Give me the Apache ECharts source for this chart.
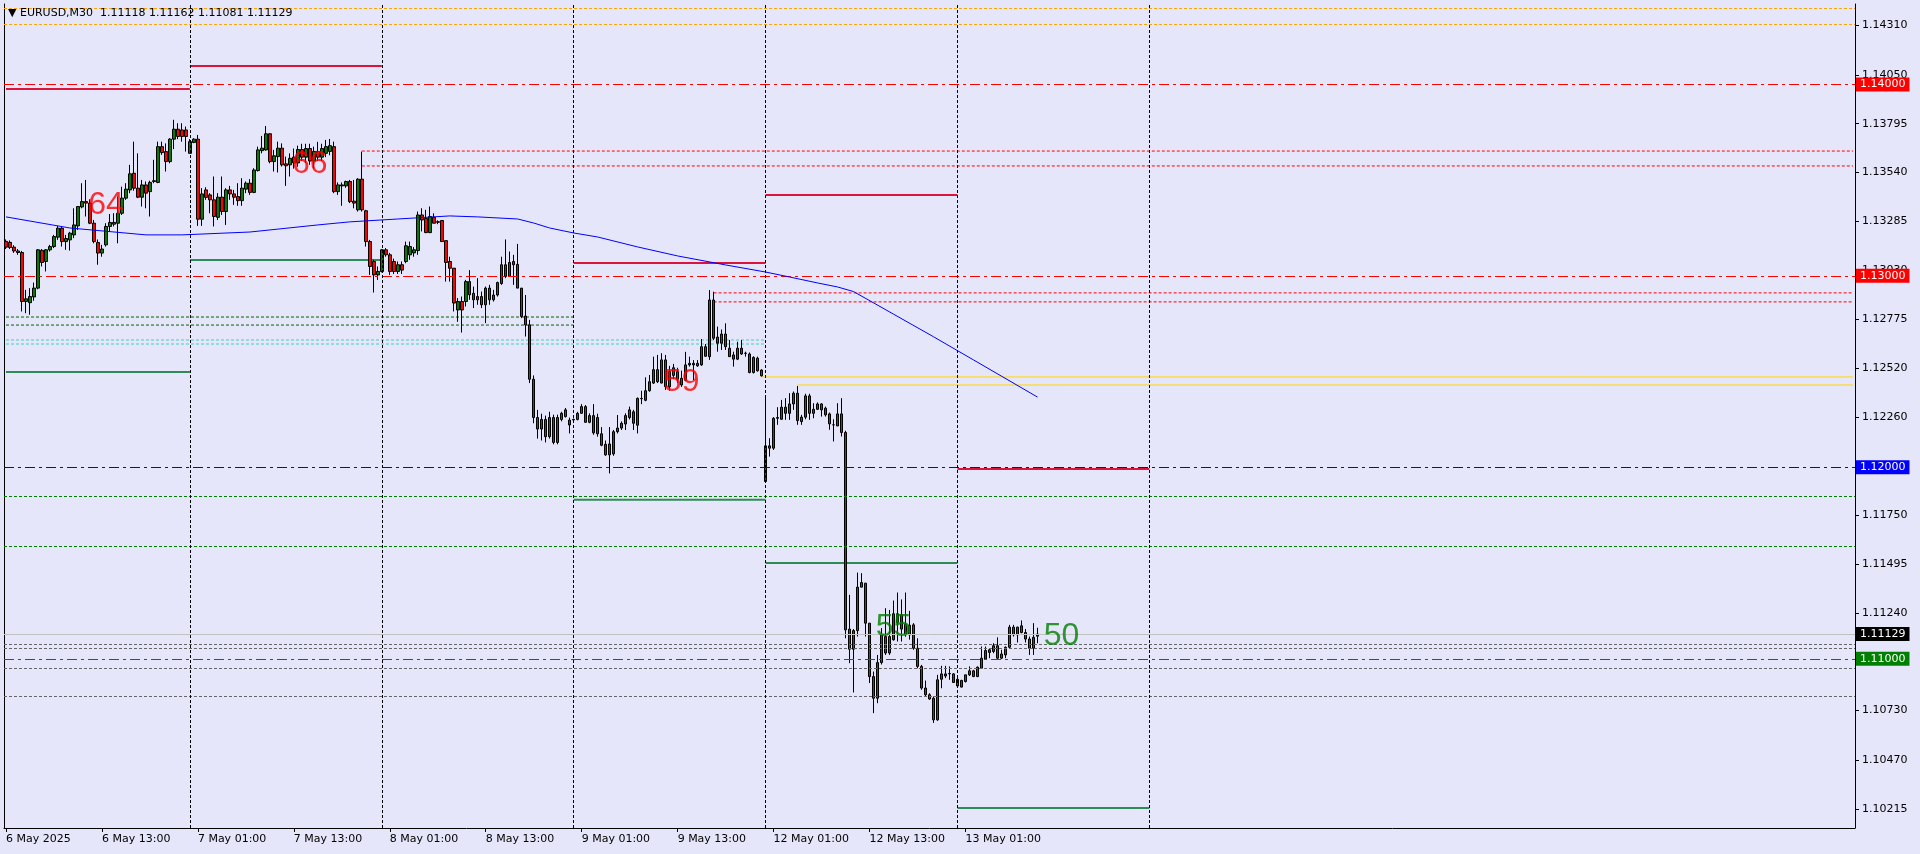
<!DOCTYPE html>
<html><head><meta charset="utf-8">
<script src="https://cdn.jsdelivr.net/npm/echarts@6/dist/echarts.min.js"></script>
<style>html,body{margin:0;padding:0;background:#E6E6FA;}#c{width:1920px;height:854px;}</style>
</head><body><div id="c"></div>
<script>
// ---------- DATA ----------
const symbolName = 'EURUSD,M30';
const tradingDays = ['2025-05-06','2025-05-07','2025-05-08','2025-05-09','2025-05-12','2025-05-13','2025-05-14','2025-05-15','2025-05-16','2025-05-19'];
const firstBarTime = '01:00';
const totalSlots = 463;
const monthNames = ['Jan','Feb','Mar','Apr','May','Jun','Jul','Aug','Sep','Oct','Nov','Dec'];

const open = [1.13180,1.13175,1.13150,1.13130,1.13122,1.12866,1.12860,1.12890,1.12936,1.13133,
1.13075,1.13136,1.13153,1.13202,1.13249,1.13179,1.13188,1.13214,1.13261,1.13360,
1.13388,1.13380,1.13275,1.13174,1.13119,1.13162,1.13258,1.13279,1.13275,1.13327,
1.13406,1.13449,1.13536,1.13458,1.13411,1.13475,1.13440,1.13493,1.13488,1.13675,
1.13649,1.13597,1.13714,1.13766,1.13762,1.13762,1.13640,1.13697,1.13714,1.13296,
1.13449,1.13423,1.13397,1.13306,1.13411,1.13336,1.13449,1.13428,1.13414,1.13393,
1.13453,1.13484,1.13436,1.13550,1.13654,1.13658,1.13742,1.13597,1.13623,1.13667,
1.13585,1.13580,1.13620,1.13590,1.13660,1.13620,1.13665,1.13600,1.13650,1.13620,
1.13640,1.13650,1.13675,1.13440,1.13475,1.13470,1.13493,1.13390,1.13345,1.13505,
1.13340,1.13179,1.13075,1.13005,1.13023,1.13136,1.13110,1.13075,1.13023,1.13058,
1.13075,1.13110,1.13120,1.13132,1.13318,1.13300,1.13226,1.13306,1.13283,1.13289,
1.13184,1.13075,1.13040,1.12822,1.12866,1.12866,1.12970,1.12909,1.12892,1.12892,
1.12849,1.12936,1.12875,1.12900,1.12960,1.13058,1.12997,1.13075,1.13060,1.12936,
1.12790,1.12744,1.12460,1.12260,1.12200,1.12250,1.12160,1.12260,1.12130,1.12250,
1.12265,1.12221,1.12247,1.12250,1.12282,1.12317,1.12235,1.12270,1.12260,1.12175,
1.12120,1.12065,1.12070,1.12186,1.12205,1.12226,1.12260,1.12290,1.12220,1.12360,
1.12350,1.12400,1.12440,1.12510,1.12440,1.12561,1.12420,1.12480,1.12500,1.12430,
1.12455,1.12535,1.12543,1.12543,1.12535,1.12630,1.12578,1.12874,1.12680,1.12648,
1.12696,1.12622,1.12587,1.12565,1.12622,1.12596,1.12592,1.12495,1.12570,1.12508,
1.11926,1.12112,1.12100,1.12256,1.12251,1.12314,1.12282,1.12331,1.12387,1.12239,
1.12262,1.12373,1.12282,1.12303,1.12331,1.12309,1.12279,1.12222,1.12216,1.12279,
1.12182,1.11155,1.11050,1.11147,1.11374,1.11395,1.11186,1.10907,1.10794,1.10980,
1.11116,1.11116,1.11099,1.11190,1.11230,1.11180,1.11125,1.11177,1.11055,1.10960,
1.10847,1.10812,1.10794,1.10681,1.10893,1.10910,1.10921,1.10921,1.10893,1.10852,
1.10881,1.10916,1.10937,1.10907,1.10951,1.10998,1.11033,1.11038,1.11068,1.11003,
1.11020,1.11060,1.11165,1.11125,1.11172,1.11137,1.11103,1.11055,1.11118];

const high = [1.13190,1.13185,1.13160,1.13140,1.13130,1.12927,1.12936,1.12965,1.13140,1.13140,
1.13140,1.13162,1.13214,1.13261,1.13258,1.13214,1.13230,1.13353,1.13362,1.13484,
1.13501,1.13400,1.13292,1.13190,1.13162,1.13275,1.13323,1.13327,1.13414,1.13466,
1.13484,1.13580,1.13701,1.13640,1.13501,1.13493,1.13497,1.13606,1.13701,1.13701,
1.13692,1.13719,1.13815,1.13797,1.13797,1.13780,1.13714,1.13719,1.13736,1.13458,
1.13463,1.13432,1.13519,1.13432,1.13519,1.13458,1.13470,1.13449,1.13484,1.13510,
1.13493,1.13505,1.13562,1.13675,1.13731,1.13783,1.13745,1.13658,1.13701,1.13692,
1.13623,1.13640,1.13665,1.13680,1.13690,1.13690,1.13690,1.13675,1.13700,1.13690,
1.13710,1.13715,1.13701,1.13488,1.13488,1.13497,1.13501,1.13501,1.13510,1.13649,
1.13345,1.13188,1.13084,1.13049,1.13140,1.13145,1.13120,1.13090,1.13075,1.13075,
1.13179,1.13179,1.13150,1.13336,1.13353,1.13345,1.13362,1.13327,1.13290,1.13289,
1.13184,1.13100,1.13040,1.12884,1.12892,1.12979,1.13030,1.12944,1.12988,1.12918,
1.12944,1.12953,1.12927,1.12970,1.13100,1.13190,1.13127,1.13110,1.13167,1.12936,
1.12900,1.12770,1.12480,1.12300,1.12280,1.12270,1.12290,1.12275,1.12275,1.12290,
1.12310,1.12260,1.12255,1.12290,1.12330,1.12325,1.12282,1.12330,1.12280,1.12210,
1.12140,1.12210,1.12195,1.12273,1.12240,1.12282,1.12317,1.12300,1.12365,1.12400,
1.12470,1.12482,1.12578,1.12587,1.12596,1.12587,1.12530,1.12540,1.12520,1.12505,
1.12603,1.12578,1.12560,1.12560,1.12670,1.12644,1.12926,1.12917,1.12735,1.12720,
1.12752,1.12665,1.12604,1.12656,1.12665,1.12604,1.12600,1.12580,1.12578,1.12512,
1.12362,1.12152,1.12262,1.12314,1.12352,1.12361,1.12387,1.12396,1.12425,1.12274,
1.12384,1.12384,1.12335,1.12339,1.12335,1.12317,1.12286,1.12251,1.12335,1.12361,
1.12191,1.11334,1.11155,1.11450,1.11447,1.11395,1.11186,1.10933,1.11020,1.11160,
1.11264,1.11255,1.11304,1.11346,1.11310,1.11346,1.11250,1.11186,1.11107,1.10968,
1.10886,1.10820,1.10803,1.10916,1.10963,1.10963,1.10960,1.10925,1.10911,1.10890,
1.10916,1.10960,1.10942,1.10960,1.11064,1.11064,1.11055,1.11081,1.11112,1.11047,
1.11064,1.11177,1.11177,1.11168,1.11200,1.11155,1.11116,1.11186,1.11162];

const low = [1.13140,1.13140,1.13120,1.13110,1.12814,1.12805,1.12797,1.12870,1.12930,1.13049,
1.13023,1.13127,1.13145,1.13188,1.13153,1.13136,1.13132,1.13197,1.13240,1.13353,
1.13310,1.13270,1.13170,1.13058,1.13100,1.13153,1.13231,1.13258,1.13170,1.13318,
1.13397,1.13432,1.13445,1.13406,1.13362,1.13353,1.13310,1.13484,1.13484,1.13632,
1.13545,1.13588,1.13662,1.13714,1.13701,1.13649,1.13640,1.13693,1.13261,1.13261,
1.13397,1.13327,1.13258,1.13292,1.13318,1.13266,1.13397,1.13371,1.13366,1.13366,
1.13432,1.13423,1.13432,1.13545,1.13640,1.13654,1.13588,1.13545,1.13540,1.13571,
1.13470,1.13519,1.13560,1.13570,1.13600,1.13590,1.13580,1.13560,1.13600,1.13600,
1.13620,1.13630,1.13432,1.13423,1.13366,1.13460,1.13380,1.13353,1.13336,1.13336,
1.13153,1.13005,1.12913,1.12979,1.13018,1.13100,1.13005,1.13010,1.13010,1.13010,
1.13066,1.13084,1.13100,1.13110,1.13232,1.13223,1.13223,1.13275,1.13270,1.13179,
1.12970,1.12970,1.12814,1.12760,1.12704,1.12840,1.12875,1.12832,1.12849,1.12832,
1.12753,1.12849,1.12866,1.12892,1.12953,1.12988,1.12997,1.12953,1.12936,1.12779,
1.12683,1.12440,1.12230,1.12150,1.12140,1.12130,1.12150,1.12120,1.12120,1.12240,
1.12260,1.12177,1.12240,1.12245,1.12280,1.12233,1.12230,1.12170,1.12160,1.12110,
1.12060,1.11968,1.12060,1.12177,1.12195,1.12195,1.12250,1.12195,1.12177,1.12330,
1.12345,1.12395,1.12435,1.12440,1.12439,1.12404,1.12400,1.12460,1.12440,1.12420,
1.12450,1.12526,1.12456,1.12525,1.12530,1.12578,1.12561,1.12665,1.12604,1.12613,
1.12613,1.12578,1.12526,1.12560,1.12587,1.12578,1.12491,1.12490,1.12500,1.12474,
1.11926,1.12056,1.12091,1.12222,1.12248,1.12248,1.12248,1.12300,1.12222,1.12222,
1.12251,1.12248,1.12256,1.12300,1.12265,1.12265,1.12196,1.12135,1.12216,1.12161,
1.11107,1.10977,1.10824,1.11116,1.11374,1.11116,1.10873,1.10716,1.10768,1.10970,
1.11020,1.11020,1.11095,1.11090,1.11090,1.11115,1.11100,1.11047,1.10950,1.10838,
1.10803,1.10786,1.10665,1.10676,1.10846,1.10899,1.10890,1.10873,1.10855,1.10850,
1.10876,1.10910,1.10904,1.10904,1.10951,1.10994,1.11003,1.11029,1.10994,1.10998,
1.11003,1.11055,1.11116,1.11085,1.11133,1.11085,1.11020,1.11020,1.11081];

const close = [1.13150,1.13148,1.13130,1.13122,1.12866,1.12880,1.12892,1.12936,1.13136,1.13070,
1.13136,1.13153,1.13205,1.13249,1.13179,1.13195,1.13223,1.13266,1.13362,1.13388,
1.13380,1.13275,1.13179,1.13119,1.13140,1.13258,1.13279,1.13270,1.13327,1.13406,
1.13453,1.13533,1.13458,1.13411,1.13475,1.13432,1.13488,1.13497,1.13675,1.13644,
1.13597,1.13714,1.13766,1.13728,1.13728,1.13728,1.13701,1.13714,1.13296,1.13428,
1.13410,1.13397,1.13310,1.13411,1.13336,1.13449,1.13428,1.13411,1.13393,1.13458,
1.13484,1.13436,1.13553,1.13658,1.13667,1.13742,1.13597,1.13627,1.13667,1.13580,
1.13575,1.13614,1.13590,1.13660,1.13620,1.13665,1.13600,1.13650,1.13620,1.13665,
1.13675,1.13680,1.13440,1.13475,1.13470,1.13493,1.13388,1.13380,1.13505,1.13345,
1.13179,1.13049,1.13005,1.13023,1.13136,1.13110,1.13023,1.13023,1.13058,1.13030,
1.13157,1.13153,1.13136,1.13318,1.13292,1.13226,1.13310,1.13275,1.13280,1.13179,
1.13070,1.13040,1.12858,1.12866,1.12822,1.12970,1.12901,1.12875,1.12875,1.12849,
1.12936,1.12875,1.12900,1.12965,1.13058,1.12997,1.13070,1.13058,1.12936,1.12788,
1.12744,1.12460,1.12260,1.12200,1.12250,1.12160,1.12260,1.12130,1.12260,1.12282,
1.12300,1.12247,1.12250,1.12282,1.12317,1.12235,1.12270,1.12180,1.12175,1.12115,
1.12065,1.12122,1.12186,1.12205,1.12230,1.12270,1.12300,1.12230,1.12360,1.12358,
1.12400,1.12447,1.12510,1.12447,1.12561,1.12421,1.12500,1.12520,1.12460,1.12465,
1.12535,1.12543,1.12535,1.12530,1.12630,1.12580,1.12874,1.12674,1.12648,1.12696,
1.12630,1.12578,1.12565,1.12622,1.12592,1.12595,1.12495,1.12574,1.12504,1.12478,
1.12112,1.12100,1.12256,1.12260,1.12314,1.12282,1.12331,1.12387,1.12244,1.12262,
1.12373,1.12282,1.12303,1.12331,1.12300,1.12274,1.12227,1.12222,1.12279,1.12182,
1.11151,1.11050,1.11147,1.11374,1.11398,1.11186,1.10907,1.10794,1.10980,1.11125,
1.11030,1.11030,1.11235,1.11235,1.11155,1.11125,1.11175,1.11055,1.10960,1.10847,
1.10812,1.10790,1.10681,1.10890,1.10921,1.10921,1.10923,1.10876,1.10858,1.10887,
1.10916,1.10937,1.10907,1.10956,1.11003,1.11043,1.11047,1.11068,1.11003,1.11025,
1.11060,1.11165,1.11125,1.11165,1.11137,1.11103,1.11055,1.11112,1.11129];

// moving average readings: [bar index, value]
const maPoints = [[0,1.13308],[16,1.13250],[35,1.13214],[44,1.13214],[61,1.13229],[78,1.13266],[86,1.13282],
[98,1.13297],[111,1.13313],[118,1.13308],[128,1.13297],[132,1.13276],[136,1.13250],[142,1.13224],[148,1.13203],
[158,1.13151],[168,1.13104],[180,1.13057],[190,1.13020],[196,1.12994],[203,1.12963],[208,1.12942],[212,1.12918],
[222,1.12800],[232,1.12682],[242,1.12561],[258,1.12367]];

const yTicks = [1.14310,1.14050,1.13795,1.13540,1.13285,1.13030,1.12775,1.12520,1.12260,1.12005,1.11750,1.11495,1.11240,1.10985,1.10730,1.10470,1.10215];
const yMin = 1.10116, yMax = 1.14420;

const roundLevels = [1.14000, 1.13000, 1.12000, 1.11000];
const separatorDays = ['2025-05-07','2025-05-08','2025-05-09','2025-05-12','2025-05-13','2025-05-14'];
const dayHighLevels = {'2025-05-06':1.13976,'2025-05-07':1.14096,'2025-05-09':1.13067,'2025-05-12':1.13423,'2025-05-13':1.11991};
const dayLowLevels  = {'2025-05-06':1.12498,'2025-05-07':1.13083,'2025-05-09':1.11830,'2025-05-12':1.11500,'2025-05-13':1.10221};
const redRays = [['2025-05-07 21:30',1.13652],['2025-05-07 21:30',1.13574],['2025-05-09 17:30',1.12911],['2025-05-09 17:30',1.12864]];
const yellowRays = [['2025-05-09 23:30',1.12472],['2025-05-12 04:00',1.12430]];
const darkGreenLevels = [1.12785, 1.12743]; const darkGreenEnd = '2025-05-09 00:00';
const aquaLevels = [1.12665, 1.12644]; const aquaEnd = '2025-05-12 00:00';
const orangeLevels = [1.14399, 1.14316];
const greenDotLevels = [1.11850, 1.11589];
const grayDotLevels = [1.11077, 1.11056, 1.10952, 1.10806];
const redMarks = [['2025-05-06 13:30',1.13370,'64'],['2025-05-07 15:00',1.13585,'66'],['2025-05-09 13:30',1.12446,'59']];
const greenMarks = [['2025-05-12 16:00',1.11166,'55'],['2025-05-13 13:00',1.11119,'50']];

// ---------- BUILD ----------
const cats = [];
outer: for (const d of tradingDays) {
  for (let m = 0; m < 48; m++) {
    const t = d + ' ' + String(Math.floor(m/2)).padStart(2,'0') + ':' + (m%2 ? '30' : '00');
    if (cats.length === 0 && t < tradingDays[0] + ' ' + firstBarTime) continue;
    cats.push(t);
    if (cats.length >= totalSlots) break outer;
  }
}
const idx = t => cats.indexOf(t);
const nBars = close.length;
const lastIdx = cats.length - 1;
const isLabeled = i => i === 0 || (i < nBars && (cats[i].endsWith(' 01:00') || cats[i].endsWith(' 13:00')));
const fmtCat = (v, i) => {
  const [d, t] = v.split(' ');
  const [y, mo, dd] = d.split('-');
  const base = parseInt(dd,10) + ' ' + monthNames[parseInt(mo,10)-1];
  return i === 0 ? base + ' ' + y : base + ' ' + t;
};
const nextDayStart = d => {
  const k = tradingDays.indexOf(d);
  return idx(tradingDays[k+1] + ' 00:00');
};
const dayStart = d => d === tradingDays[0] ? 0 : idx(d + ' 00:00');

const FONT = 'DejaVu Sans';
const DASHDOT = [10,4,3,4];
const DOT = [3,2];

const series = [];
function seg(x0, x1, p, color, type, width, z) {
  series.push({type:'line', data:[[x0,p],[x1,p]], symbol:'none', silent:true, animation:false,
    lineStyle:{color, type, width}, z: z || 2});
}
Object.keys(dayHighLevels).forEach(d => seg(dayStart(d), nextDayStart(d), dayHighLevels[d], '#DC143C', 'solid', 2, 3));
Object.keys(dayLowLevels).forEach(d => seg(dayStart(d), nextDayStart(d), dayLowLevels[d], '#2E8B57', 'solid', 2, 3));
redRays.forEach(r => seg(idx(r[0]), lastIdx, r[1], '#FF0000', DOT, 1));
yellowRays.forEach(r => seg(idx(r[0]), lastIdx, r[1], '#FFD700', 'solid', 1));
darkGreenLevels.forEach(p => seg(0, idx(darkGreenEnd), p, '#006400', DOT, 1));
aquaLevels.forEach(p => seg(0, idx(aquaEnd), p, '#40D0C0', DOT, 1));

const tagColors = ['#FF0000','#FF0000','#0000FF','#008000'];
const lineColors = ['#FF0000','#FF0000','#0000FF','#008000'];
const tag = bg => ({show:true, position:'end', distance:1, formatter: p => Number(p.value).toFixed(5),
  backgroundColor:bg, color:'#FFFFFF', padding:[2,4,1,4], fontSize:11, fontFamily:FONT});
const mlData = [];
orangeLevels.forEach(p => mlData.push({yAxis:p, lineStyle:{color:'#FFA500', type:DOT, width:1}, label:{show:false}}));
greenDotLevels.forEach(p => mlData.push({yAxis:p, lineStyle:{color:'#008000', type:DOT, width:1}, label:{show:false}}));
grayDotLevels.forEach(p => mlData.push({yAxis:p, lineStyle:{color:'#666666', type:DOT, width:1}, label:{show:false}}));
mlData.push({yAxis:close[nBars-1], lineStyle:{color:'#C0C0C0', type:'solid', width:1}, label:tag('#000000')});
roundLevels.forEach((p,k) => mlData.push({yAxis:p, lineStyle:{color:lineColors[k], type:DASHDOT, width:1}, label:tag(tagColors[k])}));
separatorDays.forEach(d => mlData.push({xAxis:idx(d+' 00:00'), lineStyle:{color:'#000000', type:DOT, width:1}, label:{show:false}}));

series.unshift({type:'line', data:[], z:1, silent:true, animation:false,
  markLine:{symbol:['none','none'], precision:5, silent:true, animation:false, data: mlData}});

series.push({type:'candlestick', z:4, animation:false, barWidth:3,
  data: open.map((o,i) => [o, close[i], low[i], high[i]]),
  itemStyle:{color:'#008000', color0:'#FF0000', borderColor:'#000000', borderColor0:'#000000', borderWidth:1}});
series.push({type:'line', z:5, data: maPoints, symbol:'none', silent:true, animation:false,
  lineStyle:{color:'#0000FF', width:1}});
const markSeries = (arr, color) => ({type:'scatter', z:6, silent:true, animation:false, symbolSize:1,
  itemStyle:{color:'rgba(0,0,0,0)'},
  data: arr.map(m => [idx(m[0]), m[1], m[2]]),
  label:{show:true, position:'inside', formatter: p => p.data[2], color, fontSize:32, fontFamily:'Liberation Sans'}});
series.push(markSeries(redMarks, '#FF0000'));
series.push(markSeries(greenMarks, '#008000'));

const last = nBars - 1;
const chart = echarts.init(document.getElementById('c'), null, {renderer:'canvas'});
chart.setOption({
  backgroundColor:'#E6E6FA',
  animation:false,
  title:{text:'\u25BC ' + symbolName + '  ' + [open[last],high[last],low[last],close[last]].map(v=>v.toFixed(5)).join(' '),
    left:8, top:8, padding:0, textStyle:{fontSize:11, fontWeight:'normal', color:'#000', fontFamily:FONT}},
  grid:{left:4, right:65, top:4, bottom:26, containLabel:false, outerBoundsMode:'none', show:false},
  xAxis:{type:'category', data:cats, boundaryGap:true,
    axisLine:{show:true, lineStyle:{color:'#000', width:1}},
    axisTick:{show:true, interval:(i)=>isLabeled(i), alignWithLabel:true, length:4, lineStyle:{color:'#000'}},
    axisLabel:{interval:(i)=>isLabeled(i), formatter:fmtCat, align:'left', margin:6, color:'#000', fontSize:11, fontFamily:FONT, hideOverlap:false},
    splitLine:{show:false}},
  yAxis:[{type:'value', position:'right', min:yMin, max:yMax,
    axisLine:{show:true, lineStyle:{color:'#000', width:1}},
    axisTick:{show:true, customValues:yTicks, length:4, lineStyle:{color:'#000'}},
    axisLabel:{customValues:yTicks, formatter:v=>v.toFixed(5), margin:7, color:'#000', fontSize:11, fontFamily:FONT},
    splitLine:{show:false}},
    {type:'value', position:'left', min:yMin, max:yMax,
    axisLine:{show:true, onZero:false, lineStyle:{color:'#000', width:1}},
    axisTick:{show:false}, axisLabel:{show:false}, splitLine:{show:false}}],
  series: series
});
</script></body></html>
